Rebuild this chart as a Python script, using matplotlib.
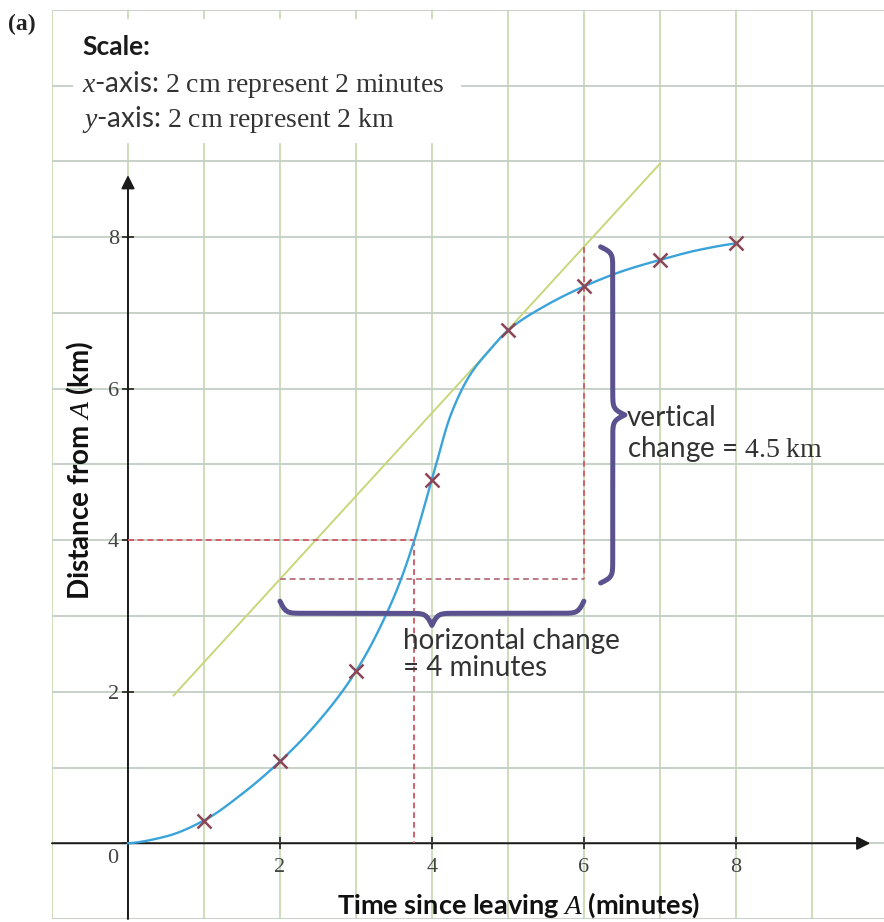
import numpy as np
import matplotlib
matplotlib.use("Agg")
import matplotlib.pyplot as plt
from matplotlib.patches import Rectangle

# ---------------- data ----------------
point_x = [1, 2, 3, 4, 5, 6, 7, 8]                       # time (minutes)
point_y = [0.3, 1.08, 2.27, 4.8, 6.77, 7.35, 7.7, 7.92]    # distance (km)

curve_x = [0, 0.5, 1, 1.5, 2, 2.5, 3, 3.5, 3.75, 4, 4.25, 4.5, 4.75, 5, 5.5, 6, 6.5, 7, 7.5, 8]
curve_y = [0, 0.09, 0.3, 0.65, 1.08, 1.6, 2.27, 3.25, 3.94, 4.8, 5.66, 6.18, 6.5, 6.77,
           7.1, 7.35, 7.55, 7.7, 7.83, 7.92]

tangent_x = [0.6, 7.0]
tangent_y = [1.95, 8.97]

read_y = 4.0
read_x = 3.77         # time read at 4 km
change_x = [2, 6]     # horizontal change interval
x_ticks = [0, 2, 4, 6, 8]
y_ticks = [0, 2, 4, 6, 8]

# ---------------- styling ----------------
SANS = ["Lato", "DejaVu Sans"]
NARROW = ["Liberation Sans Narrow", "Lato", "DejaVu Sans"]
SERIF = ["Liberation Serif", "DejaVu Serif"]
plt.rcParams["font.family"] = SANS
plt.rcParams["mathtext.fontset"] = "custom"
plt.rcParams["mathtext.rm"] = "Liberation Serif"
plt.rcParams["mathtext.it"] = "Liberation Serif:italic"
plt.rcParams["mathtext.bf"] = "Liberation Serif:bold"

CURVE = "#3aa3da"
CROSS = "#8a4658"
TAN = "#c9d67a"
RED = "#d2606c"
BRACE = "#5a518f"
GRIDV = "#c9dbb6"
GRIDH = "#c3cec3"
TXT = "#333333"


def pchip(x, y, xs):
    x = np.asarray(x, float); y = np.asarray(y, float)
    h = np.diff(x); d = np.diff(y) / h
    n = len(x); m = np.zeros(n)
    for k in range(1, n - 1):
        if d[k - 1] * d[k] > 0:
            w1 = 2 * h[k] + h[k - 1]; w2 = h[k] + 2 * h[k - 1]
            m[k] = (w1 + w2) / (w1 / d[k - 1] + w2 / d[k])
    m[0] = ((2 * h[0] + h[1]) * d[0] - h[0] * d[1]) / (h[0] + h[1])
    if np.sign(m[0]) != np.sign(d[0]):
        m[0] = 0
    m[-1] = ((2 * h[-1] + h[-2]) * d[-1] - h[-1] * d[-2]) / (h[-1] + h[-2])
    if np.sign(m[-1]) != np.sign(d[-1]):
        m[-1] = 0
    idx = np.clip(np.searchsorted(x, xs) - 1, 0, n - 2)
    t = (xs - x[idx]) / h[idx]
    h00 = 2 * t**3 - 3 * t**2 + 1
    h10 = t**3 - 2 * t**2 + t
    h01 = -2 * t**3 + 3 * t**2
    h11 = t**3 - t**2
    return h00 * y[idx] + h10 * h[idx] * m[idx] + h01 * y[idx + 1] + h11 * h[idx] * m[idx + 1]


def brace_profile(a, b, n=401, beta=28.0):
    t = np.linspace(a, b, n)
    half = t[: n // 2 + 1]
    yh = 1 / (1 + np.exp(-beta * (half - half[0]))) + 1 / (1 + np.exp(-beta * (half - half[-1])))
    prof = np.concatenate((yh, yh[-2::-1])) - 1.0   # -0.5 at ends, 0 flat, +0.5 at cusp
    return t, prof


fig = plt.figure(figsize=(8.84, 9.22), dpi=100)
ax = fig.add_axes([52 / 884, 3 / 922, 832 / 884, 909 / 922])
ax.set_xlim(-1, 9.95)
ax.set_ylim(-1, 11.0)

# grid
ax.set_xticks(x_ticks)
ax.set_yticks(y_ticks)
ax.set_xticks([-1, 1, 3, 5, 7, 9], minor=True)
ax.set_yticks([-1, 1, 3, 5, 7, 9, 10, 11], minor=True)
ax.xaxis.grid(True, which="both", color=GRIDV, lw=1.3)
ax.yaxis.grid(True, which="both", color=GRIDH, lw=1.3)
ax.set_axisbelow(True)
ax.tick_params(which="minor", length=0)
ax.tick_params(which="major", direction="inout", length=9, width=1.2, color="#222222")
ax.tick_params(axis="x", pad=6)
ax.tick_params(axis="y", pad=2)
for s in ax.spines.values():
    s.set_visible(False)
ax.spines["left"].set_position(("data", 0))
ax.spines["bottom"].set_position(("data", 0))
ax.set_xticklabels(["" if v == 0 else str(v) for v in x_ticks], fontfamily=SERIF, fontsize=16, color="#444444")
ax.set_yticklabels(["" if v == 0 else str(v) for v in y_ticks], fontfamily=SERIF, fontsize=16, color="#444444")
ax.text(-0.2, -0.2, "0", ha="center", va="center", fontfamily=SERIF, fontsize=16, color="#444444")

# axes with arrows
ax.annotate("", xy=(0, 8.82), xytext=(0, -1.0),
            arrowprops=dict(arrowstyle="-|>", color="#1a1a1a", lw=1.4, mutation_scale=20, shrinkA=0, shrinkB=0))
ax.annotate("", xy=(9.77, 0), xytext=(-1.0, 0),
            arrowprops=dict(arrowstyle="-|>", color="#1a1a1a", lw=1.4, mutation_scale=20, shrinkA=0, shrinkB=0))

# tangent line
ax.plot(tangent_x, tangent_y, color=TAN, lw=1.4, zorder=3)

# dashed construction lines
tan_at = np.interp(change_x, tangent_x, tangent_y)
dash = dict(color=RED, lw=1.4, dashes=(3, 2), zorder=3)
ax.plot([0, read_x], [read_y, read_y], **dash)
ax.plot([read_x, read_x], [read_y, 0], **dash)
ax.plot([change_x[0], change_x[1]], [tan_at[0], tan_at[0]], color="#b97a86", lw=1.4, dashes=(3, 2), zorder=3)
ax.plot([change_x[1], change_x[1]], [tan_at[1], tan_at[0]], **dash)

# curve and points
xs = np.linspace(curve_x[0], curve_x[-1], 800)
ax.plot(xs, pchip(curve_x, curve_y, xs), color=CURVE, lw=1.7, zorder=4)
ax.plot(point_x, point_y, linestyle="none", marker="x", ms=10, mew=1.8, color=CROSS, zorder=5)

# braces
bx, bp = brace_profile(change_x[0], change_x[1], beta=26)
ax.plot(bx, tan_at[0] - 0.45 - bp * 0.32, color=BRACE, lw=3.6, solid_capstyle="round", zorder=4)
vy, vp = brace_profile(tan_at[0] - 0.05, tan_at[1] + 0.0, beta=26)
ax.plot(change_x[1] + 0.38 + vp * 0.32, vy, color=BRACE, lw=3.6, solid_capstyle="round", zorder=4)

# annotations
ax.text(6.57, 5.78, "vertical\nchange = $\\mathrm{4.5\\ km}$", ha="left", va="top",
        fontsize=20, color=TXT, linespacing=1.1, zorder=6)
ax.text(3.62, 2.84, "horizontal change\n= 4 minutes", ha="left", va="top",
        fontsize=20, color=TXT, linespacing=1.05, zorder=6)

# scale box
ax.add_patch(Rectangle((-0.72, 9.25), 5.1, 1.63, facecolor="white", edgecolor="none", zorder=2))
ax.text(-0.6, 10.4, "Scale:", fontweight="bold", fontsize=19, color="#1a1a1a", va="baseline", zorder=6)
ax.text(-0.6, 9.92, "$x$-axis: $\\mathrm{2\\ cm\\ represent\\ 2\\ minutes}$", fontsize=20,
        color=TXT, va="baseline", zorder=6)
ax.text(-0.6, 9.45, "$y$-axis: $\\mathrm{2\\ cm\\ represent\\ 2\\ km}$", fontsize=20,
        color=TXT, va="baseline", zorder=6)

# axis labels
ax.text(-0.63, 4.93, "Distance from $\\mathbf{\\mathit{A}}$ (km)", rotation=90, ha="center", va="center",
        fontfamily=NARROW, fontweight="bold", fontsize=20, color="#111111", zorder=6)
ax.text(5.14, -0.82, "Time since leaving $\\mathbf{\\mathit{A}}$ (minutes)", ha="center", va="center",
        fontfamily=NARROW, fontweight="bold", fontsize=19.5, color="#111111", zorder=6)

fig.text(8 / 884, 1 - 30 / 922, "(a)", fontfamily=SERIF, fontweight="bold", fontsize=17, color="#222222")

fig.savefig("out.png", dpi=100)
